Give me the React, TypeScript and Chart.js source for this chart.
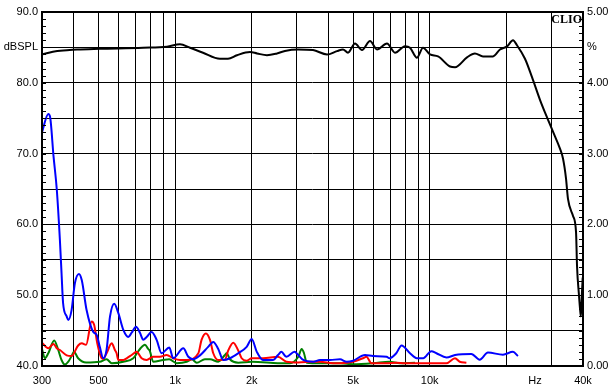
import React, { useEffect, useRef } from "react";
import { Chart, registerables } from "chart.js";

Chart.register(...registerables);

// Frequency response (dBSPL, left axis)
const splFreq = [300, 331, 376, 412, 506, 748, 929, 1045, 1144, 1287, 1500, 1613, 1750, 1968, 2098, 2295, 2512, 2700, 3038, 3480, 3950, 4324, 4564, 4776, 5088, 5420, 5829, 6207, 6794, 7305, 7998, 8367, 8914, 9410, 10027, 10780, 12013, 12571, 14011, 15054, 16191, 17724, 18883, 20119, 21239, 22024, 23668, 25220, 27108, 29131, 30490, 32480, 33380, 34300, 34920, 36550, 37560, 37900, 38590, 38940, 39250, 39640, 39900];
const splDb = [84.0, 84.4, 84.6, 84.7, 84.8, 84.95, 85.1, 85.45, 84.95, 84.25, 83.4, 83.4, 83.9, 84.35, 84.15, 83.9, 84.15, 84.5, 84.7, 84.62, 84.0, 84.48, 84.72, 84.25, 85.56, 84.62, 85.89, 84.72, 85.56, 84.25, 85.18, 84.96, 83.55, 84.96, 84.0, 83.73, 82.3, 82.2, 83.6, 84.15, 83.73, 83.73, 84.7, 85.14, 86.0, 85.3, 83.4, 80.8, 77.6, 74.8, 73.1, 70.7, 69.3, 66.5, 63.6, 61.2, 58.9, 54.1, 49.9, 48.1, 47.0, 50.5, 52.5];

// Distortion (%, right axis)
const blueFreq = [300, 317.6, 322.7, 333, 343, 352.7, 358, 363, 375, 380.6, 392, 404, 419, 430, 449, 477, 492, 506, 522, 538, 555, 576.6, 598, 626, 654.7, 675, 702, 727.5, 749.6, 772.9, 808.6, 846, 885, 948.7, 983, 1077, 1127, 1179, 1252, 1348, 1412, 1477, 1545, 1642, 1770, 1910, 1999, 2093, 2213, 2423, 2535, 2614, 2735, 2946, 3046, 3187, 3489, 3708, 4058, 4442, 4717, 5001, 5570, 5990, 6773, 6950, 7389, 7750, 8367, 8890, 9425, 10150, 10627, 11636, 12571, 14575, 15707, 16936, 19392, 21230, 22212];
const bluePct = [3.3, 3.56, 3.52, 2.96, 2.49, 1.78, 1.31, 0.89, 0.70, 0.65, 0.79, 1.17, 1.30, 1.21, 0.79, 0.48, 0.44, 0.27, 0.11, 0.23, 0.70, 0.88, 0.75, 0.51, 0.41, 0.47, 0.555, 0.47, 0.37, 0.41, 0.48, 0.37, 0.18, 0.26, 0.11, 0.25, 0.13, 0.095, 0.15, 0.27, 0.34, 0.24, 0.085, 0.11, 0.18, 0.27, 0.38, 0.20, 0.085, 0.085, 0.155, 0.20, 0.13, 0.20, 0.155, 0.085, 0.06, 0.085, 0.085, 0.095, 0.06, 0.075, 0.155, 0.14, 0.13, 0.11, 0.18, 0.29, 0.18, 0.11, 0.11, 0.21, 0.18, 0.12, 0.155, 0.17, 0.09, 0.19, 0.16, 0.20, 0.14];

const redFreq = [300, 317.6, 333, 343, 352.7, 375, 392, 416, 430, 447, 470, 481, 494.5, 514.6, 522, 538, 563.7, 580, 589, 598, 626, 645, 675, 706, 738.8, 772.9, 820, 872, 926, 983, 1045, 1111, 1234, 1270, 1321, 1371, 1412, 1477, 1569, 1617, 1692, 1770, 1825, 1910, 1999, 2213, 2535, 2735, 3046, 3489, 3708, 4178, 5001, 5473, 5643, 5904, 6773, 7389, 8000, 9150, 11636, 12571, 13117, 13930];
const redPct = [0.33, 0.25, 0.31, 0.25, 0.226, 0.15, 0.14, 0.29, 0.32, 0.30, 0.63, 0.58, 0.32, 0.11, 0.10, 0.18, 0.32, 0.226, 0.18, 0.085, 0.085, 0.109, 0.155, 0.20, 0.109, 0.085, 0.13, 0.13, 0.155, 0.109, 0.085, 0.085, 0.18, 0.37, 0.46, 0.37, 0.18, 0.085, 0.09, 0.22, 0.33, 0.22, 0.11, 0.075, 0.11, 0.11, 0.13, 0.06, 0.05, 0.06, 0.06, 0.038, 0.061, 0.11, 0.13, 0.038, 0.038, 0.047, 0.038, 0.038, 0.038, 0.11, 0.06, 0.047];

const greenFreq = [300, 308, 317.6, 335, 347.5, 358, 369, 380.6, 392, 400.5, 416, 447, 506, 538, 563.7, 626, 685, 727.5, 761, 784, 796, 820, 898, 948, 1014, 1111, 1162, 1216, 1309, 1371, 1477, 1569, 1594, 1642, 1770, 2000, 2535, 2826, 3046, 3141, 3208, 3287, 3708, 4442, 5001, 6000, 6950, 7641, 8752];
const greenPct = [0.24, 0.11, 0.18, 0.36, 0.226, 0.085, 0.02, 0.061, 0.14, 0.20, 0.11, 0.05, 0.06, 0.095, 0.04, 0.061, 0.11, 0.24, 0.30, 0.24, 0.21, 0.06, 0.085, 0.095, 0.04, 0.06, 0.095, 0.047, 0.095, 0.095, 0.061, 0.155, 0.18, 0.095, 0.047, 0.06, 0.04, 0.038, 0.13, 0.24, 0.18, 0.047, 0.038, 0.038, 0.024, 0.038, 0.06, 0.038, 0.047];

// Axis ticks
const HZ_TICK = 25900;
const xTickValues = [300, 400, 500, 600, 700, 800, 900, 1000, 2000, 3000, 4000, 5000, 6000, 7000, 8000, 9000, 10000, 20000, HZ_TICK, 30000, 40000];
const xTickLabels = ["300", "", "500", "", "", "", "", "1k", "2k", "", "", "5k", "", "", "", "", "10k", "", "Hz", "", "40k"];

const pts = (fs: number[], vs: number[]) => fs.map((f, i) => ({ x: f, y: vs[i] }));

const framePlugin = {
  id: "clioFrame",
  afterDraw(chart: any) {
    const { ctx, chartArea } = chart;
    const { left, right, top, bottom } = chartArea;
    const ys = chart.scales.y;
    const y2 = chart.scales.y2;
    ctx.save();
    ctx.strokeStyle = "#000";
    ctx.lineWidth = 1;
    ctx.beginPath();
    for (let v = 40; v <= 90; v += 1) {
      const p = Math.round(ys.getPixelForValue(v)) + 0.5;
      ctx.moveTo(left, p);
      ctx.lineTo(left + 4, p);
    }
    for (let i = 0; i <= 50; i++) {
      const p = Math.round(y2.getPixelForValue(i / 10)) + 0.5;
      ctx.moveTo(right - 4, p);
      ctx.lineTo(right, p);
    }
    ctx.stroke();
    ctx.lineWidth = 2;
    ctx.strokeRect(left, top, right - left, bottom - top);
    ctx.fillStyle = "#000";
    ctx.font = "bold 12px 'Liberation Serif', 'Times New Roman', serif";
    ctx.textAlign = "right";
    ctx.textBaseline = "alphabetic";
    ctx.fillText("CLIO", right - 1, top + 11);
    ctx.restore();
  },
};

export default function App() {
  const ref = useRef<HTMLCanvasElement>(null);
  useEffect(() => {
    document.body.style.margin = "0";
    const font = { family: "'Liberation Sans', Arial, sans-serif", size: 11 };
    const chart = new Chart(ref.current!, {
      type: "line",
      data: {
        datasets: [
          { data: pts(splFreq, splDb), yAxisID: "y", borderColor: "#000", borderWidth: 2, pointRadius: 0, cubicInterpolationMode: "monotone", order: 0 },
          { data: pts(blueFreq, bluePct), yAxisID: "y2", borderColor: "#0000ff", borderWidth: 2, pointRadius: 0, cubicInterpolationMode: "monotone", order: 1 },
          { data: pts(redFreq, redPct), yAxisID: "y2", borderColor: "#ff0000", borderWidth: 2, pointRadius: 0, cubicInterpolationMode: "monotone", order: 2 },
          { data: pts(greenFreq, greenPct), yAxisID: "y2", borderColor: "#008000", borderWidth: 2, pointRadius: 0, cubicInterpolationMode: "monotone", order: 3 },
        ],
      } as any,
      options: {
        responsive: false,
        animation: false,
        devicePixelRatio: 1,
        layout: { padding: { top: 12, left: 0, right: 0, bottom: 0 } },
        plugins: { legend: { display: false }, tooltip: { enabled: false } },
        scales: {
          x: {
            type: "logarithmic",
            min: 300,
            max: 40000,
            afterBuildTicks: (scale: any) => {
              scale.ticks = xTickValues.map((v) => ({ value: v }));
            },
            afterFit: (scale: any) => {
              scale.height = 26;
            },
            ticks: {
              autoSkip: false,
              maxRotation: 0,
              padding: 8,
              color: "#000",
              font,
              callback: (v: any) => {
                const i = xTickValues.indexOf(Number(v));
                return i >= 0 ? xTickLabels[i] : "";
              },
            },
            grid: {
              drawTicks: false,
              lineWidth: 1,
              color: (c: any) => (c.tick && c.tick.value === HZ_TICK ? "rgba(0,0,0,0)" : "#000"),
            },
            border: { display: false },
          },
          y: {
            type: "linear",
            position: "left",
            min: 40,
            max: 90,
            afterFit: (scale: any) => {
              scale.width = 42;
            },
            ticks: {
              stepSize: 5,
              padding: 4,
              color: "#000",
              font,
              callback: (v: any) => {
                const n = Number(v);
                if (n === 85) return "dBSPL";
                return n % 10 === 0 ? n.toFixed(1) : "";
              },
            },
            grid: { drawTicks: false, color: "#000", lineWidth: 1 },
            border: { display: false },
          },
          y2: {
            type: "linear",
            position: "right",
            min: 0,
            max: 5,
            afterFit: (scale: any) => {
              scale.width = 30;
            },
            ticks: {
              stepSize: 0.5,
              padding: 4,
              color: "#000",
              font,
              callback: (v: any) => {
                const n = Number(v);
                if (n === 4.5) return "%";
                return n % 1 === 0 ? n.toFixed(2) : "";
              },
            },
            grid: { display: false, drawTicks: false },
            border: { display: false },
          },
        },
      } as any,
      plugins: [framePlugin],
    });
    return () => chart.destroy();
  }, []);
  return <canvas ref={ref} width={613} height={392} style={{ display: "block" }} />;
}
